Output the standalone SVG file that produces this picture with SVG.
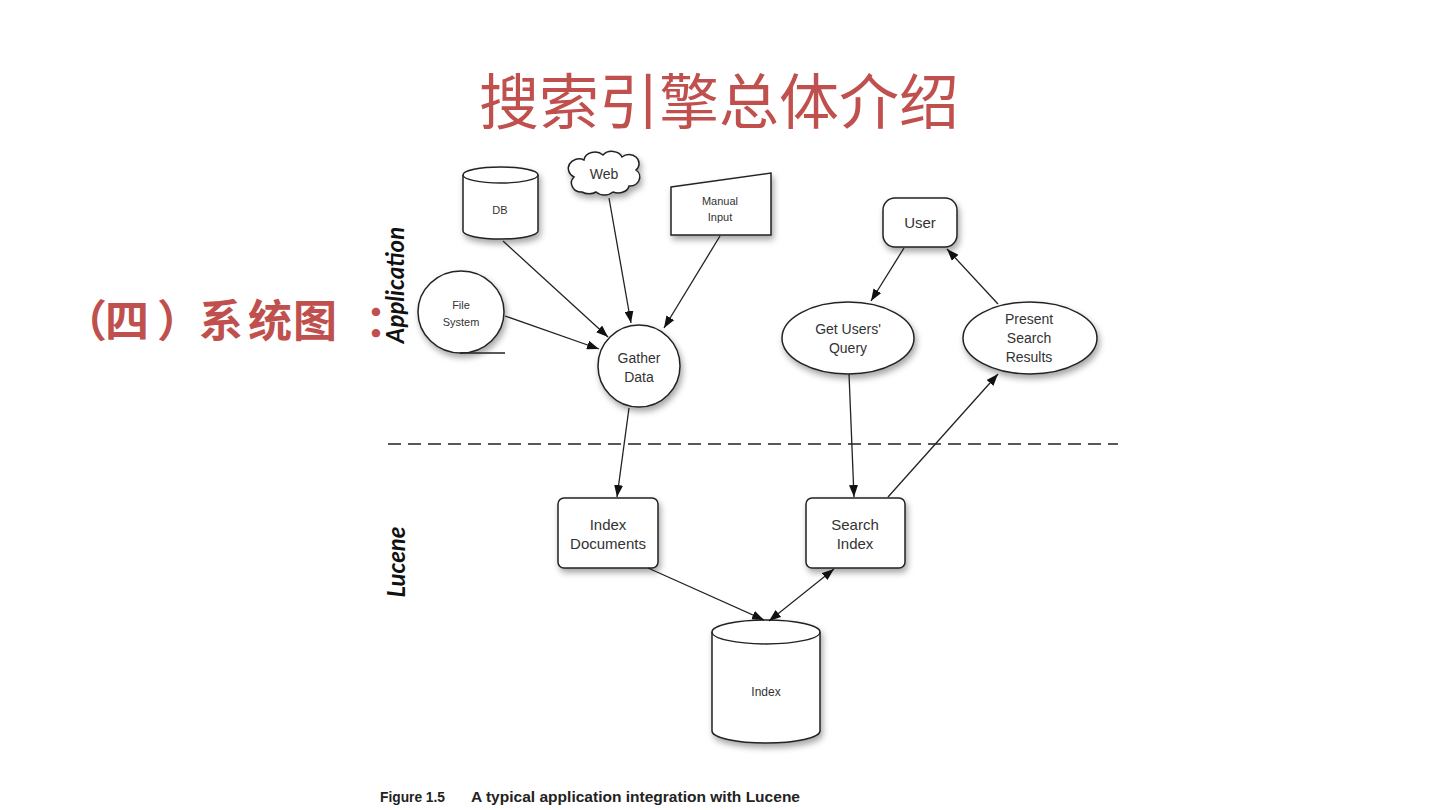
<svg xmlns="http://www.w3.org/2000/svg" width="1440" height="810" viewBox="0 0 1440 810">
<defs>
<filter id="sh" x="-30%" y="-30%" width="160%" height="170%">
<feDropShadow dx="2" dy="4" stdDeviation="3" flood-color="#000" flood-opacity="0.35"/>
</filter>
<marker id="ah" viewBox="0 0 12 9" refX="12" refY="4.5" markerWidth="12" markerHeight="9" markerUnits="userSpaceOnUse" orient="auto-start-reverse">
<path d="M0,0 L12,4.5 L0,9 z" fill="#111"/>
</marker>
</defs>
<style>
.shape{fill:#fff;stroke:#222;stroke-width:1.5;filter:url(#sh)}
.line{fill:none;stroke:#222;stroke-width:1.3}
.lbl{font-family:"Liberation Sans",Arial,sans-serif;fill:#333;text-anchor:middle}
.side{font-family:Lato,"DejaVu Sans",sans-serif;font-style:italic;font-weight:bold;font-size:24px;fill:#111;text-anchor:middle}
.conn{fill:none;stroke:#222;stroke-width:1.3;marker-end:url(#ah)}
</style>
<rect width="1440" height="810" fill="#fff"/>
<text x="719" y="124" font-family="'Noto Sans CJK SC',sans-serif" font-size="60" fill="#c0504d" text-anchor="middle">搜索引擎总体介绍</text>
<text x="63 105 157 199 248 293 365" y="337" font-family="'Noto Sans CJK SC',sans-serif" font-size="44" font-weight="bold" fill="#c0504d">（四）系统图：</text>

<text class="side" transform="translate(404,285) rotate(-90)">Application</text>
<text class="side" transform="translate(405,562) rotate(-90)">Lucene</text>

<line x1="388" y1="444" x2="1118" y2="444" stroke="#222" stroke-width="1.3" stroke-dasharray="13,7"/>

<g id="db">
<path class="shape" d="M463,175 A37.5,8 0 0 1 538,175 V231 A37.5,8 0 0 1 463,231 Z"/>
<path class="line" d="M463,175 A37.5,8 0 0 0 538,175"/>
<text class="lbl" x="500" y="214" font-size="11">DB</text>
</g>
<g id="web">
<path class="shape" d="M582,192 a10,9 0 0 1 -8,-15 a10,9 0 0 1 10,-17 a11,9 0 0 1 19,-5 a11,9 0 0 1 19,2 a10,9 0 0 1 14,13 a10,9 0 0 1 -7,16 a11,8 0 0 1 -16,6 a11,8 0 0 1 -17,0 a11,8 0 0 1 -14,0 z"/>
<text class="lbl" x="604" y="179" font-size="14">Web</text>
</g>
<g id="manual">
<path class="shape" d="M671,187 L771,173 L771,235 L671,235 Z"/>
<text class="lbl" x="720" y="205" font-size="11">Manual</text>
<text class="lbl" x="720" y="221" font-size="11">Input</text>
</g>
<g id="filesystem">
<ellipse class="shape" cx="461" cy="312" rx="43" ry="41"/>
<line x1="460" y1="353" x2="505" y2="353" stroke="#222" stroke-width="1.3"/>
<text class="lbl" x="461" y="309" font-size="11">File</text>
<text class="lbl" x="461" y="326" font-size="11">System</text>
</g>
<g id="gather">
<circle class="shape" cx="639" cy="366" r="41"/>
<text class="lbl" x="639" y="363" font-size="14">Gather</text>
<text class="lbl" x="639" y="382" font-size="14">Data</text>
</g>
<g id="user">
<rect class="shape" x="883" y="198" width="74" height="49" rx="12"/>
<text class="lbl" x="920" y="228" font-size="15">User</text>
</g>
<g id="getquery">
<ellipse class="shape" cx="848" cy="338" rx="66" ry="36"/>
<text class="lbl" x="848" y="334" font-size="14">Get Users'</text>
<text class="lbl" x="848" y="353" font-size="14">Query</text>
</g>
<g id="present">
<ellipse class="shape" cx="1030" cy="338" rx="67" ry="36"/>
<text class="lbl" x="1029" y="324" font-size="14">Present</text>
<text class="lbl" x="1029" y="343" font-size="14">Search</text>
<text class="lbl" x="1029" y="362" font-size="14">Results</text>
</g>
<g id="indexdocs">
<rect class="shape" x="558" y="498" width="100" height="70" rx="6"/>
<text class="lbl" x="608" y="530" font-size="15">Index</text>
<text class="lbl" x="608" y="549" font-size="15">Documents</text>
</g>
<g id="searchindex">
<rect class="shape" x="806" y="498" width="99" height="70" rx="6"/>
<text class="lbl" x="855" y="530" font-size="15">Search</text>
<text class="lbl" x="855" y="549" font-size="15">Index</text>
</g>
<g id="index">
<path class="shape" d="M712,632 A54,12 0 0 1 820,632 V731 A54,12 0 0 1 712,731 Z"/>
<path class="line" d="M712,632 A54,12 0 0 0 820,632"/>
<text class="lbl" x="766" y="696" font-size="12">Index</text>
</g>

<g id="connectors">
<line class="conn" x1="503" y1="241" x2="608" y2="337"/>
<line class="conn" x1="609" y1="198" x2="631" y2="323"/>
<line class="conn" x1="720" y1="236" x2="664" y2="328"/>
<line class="conn" x1="505" y1="316" x2="599" y2="349"/>
<line class="conn" x1="629" y1="408" x2="617" y2="497"/>
<line class="conn" x1="904" y1="248" x2="871" y2="301"/>
<line class="conn" x1="998" y1="304" x2="947" y2="249"/>
<line class="conn" x1="849" y1="374" x2="854" y2="497"/>
<line class="conn" x1="888" y1="497" x2="998" y2="374"/>
<line class="conn" x1="648" y1="568" x2="764" y2="620"/>
<line class="conn" x1="834" y1="569" x2="769" y2="621" marker-start="url(#ah)"/>
</g>

<text font-family="'Liberation Sans',Arial,sans-serif" font-weight="bold" font-size="15" fill="#222">
<tspan x="380" y="802" textLength="65" lengthAdjust="spacingAndGlyphs">Figure 1.5</tspan>
<tspan x="471" y="802" textLength="329" lengthAdjust="spacingAndGlyphs">A typical application integration with Lucene</tspan>
</text>
</svg>
